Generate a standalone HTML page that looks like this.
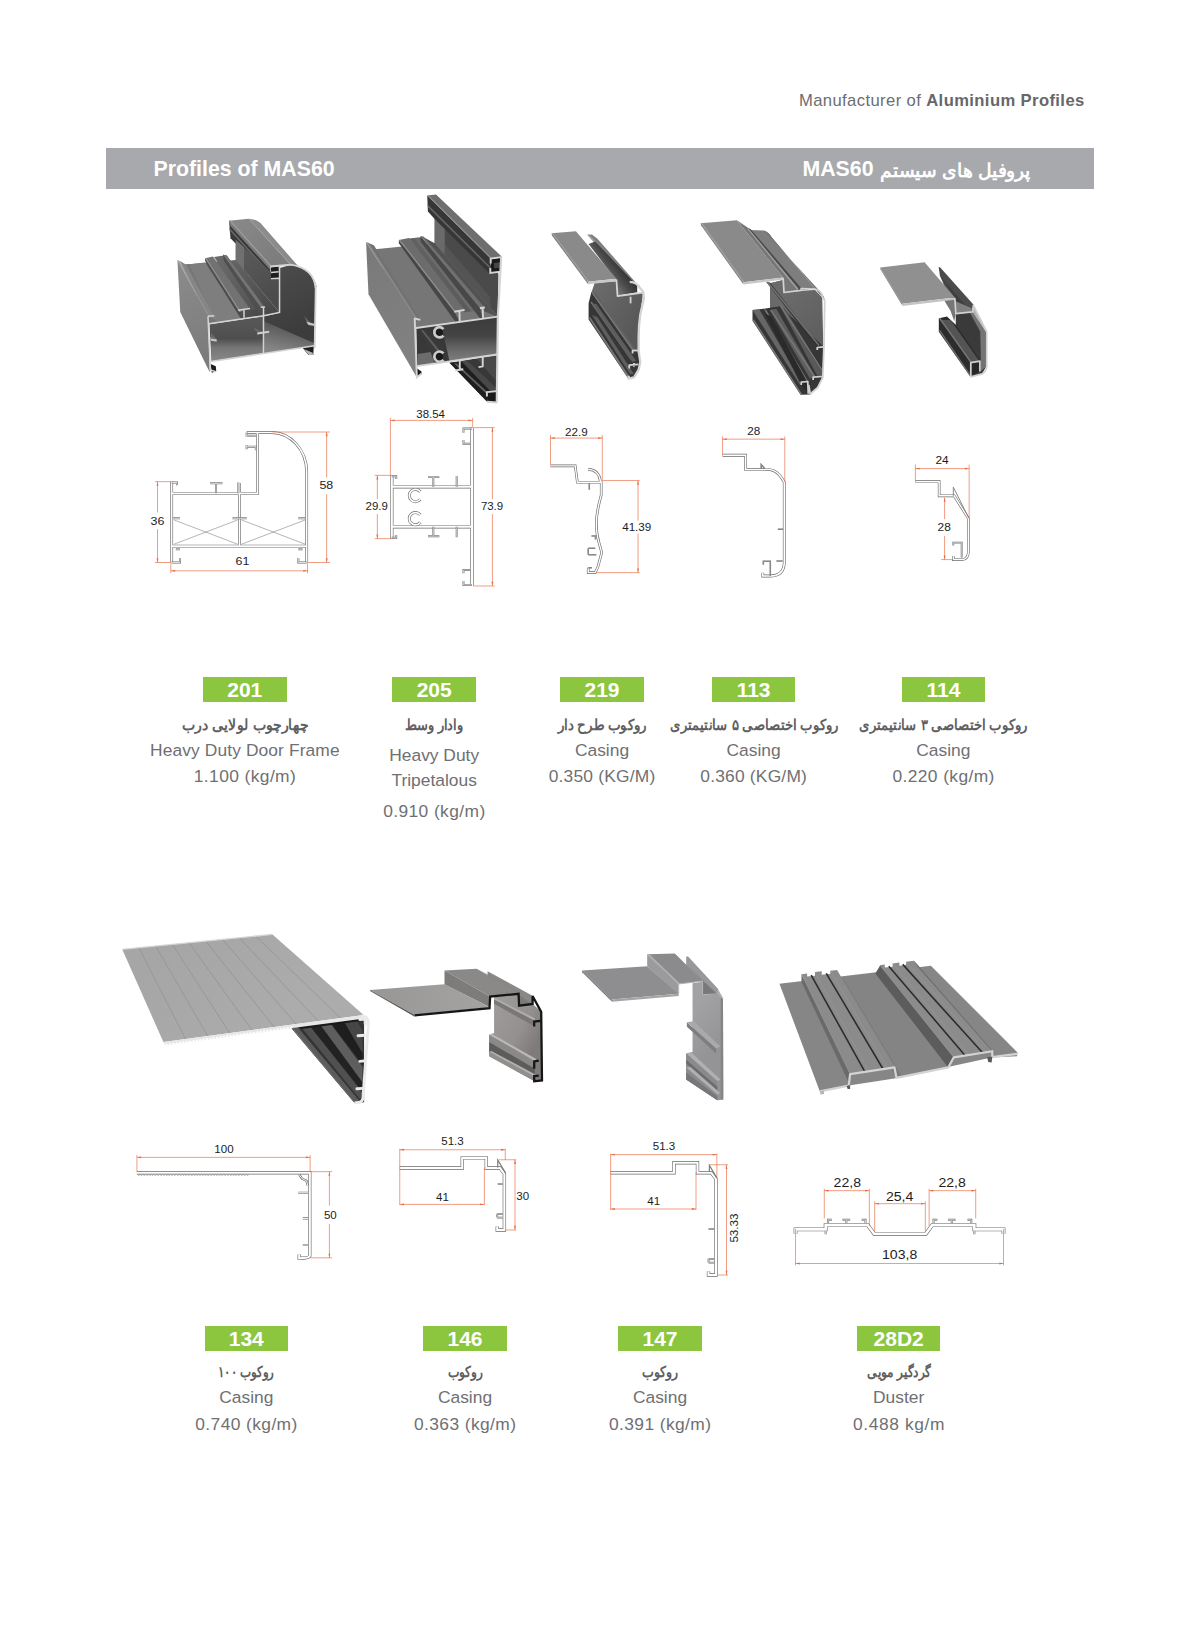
<!DOCTYPE html>
<html lang="en">
<head>
<meta charset="utf-8">
<title>Profiles of MAS60</title>
<style>
html,body{margin:0;padding:0;background:#fff;}
body{width:1200px;height:1630px;position:relative;overflow:hidden;font-family:"Liberation Sans",sans-serif;}
.abs{position:absolute;}
#mfr{position:absolute;left:799px;top:90.5px;font-size:16.6px;line-height:20px;letter-spacing:0.4px;color:#6c6d70;white-space:nowrap;}
#mfr b{font-weight:bold;color:#66676a;}
#bar{position:absolute;left:106px;top:148px;width:988px;height:41px;background:#a8a9ac;}
#bar .l{position:absolute;left:47.5px;top:7.8px;font-size:21.3px;line-height:26px;font-weight:bold;color:#fff;white-space:nowrap;}
#bar .r{position:absolute;left:696.5px;top:7.8px;font-size:21.3px;line-height:26px;font-weight:bold;color:#fff;white-space:nowrap;direction:ltr;}
.nb{position:absolute;width:83.6px;height:25px;background:#8cc63f;color:#fff;font-weight:bold;font-size:21px;line-height:25px;text-align:center;white-space:nowrap;}
.en{position:absolute;width:300px;text-align:center;font-size:17.4px;line-height:22px;color:#6f7073;white-space:nowrap;}
svg.fa2 text{font-family:"Liberation Sans",sans-serif;font-size:19px;font-weight:bold;fill:#fff;}
svg.fa text{font-family:"Liberation Sans",sans-serif;font-size:15px;font-weight:bold;fill:#5f6062;}
svg{position:absolute;overflow:visible;}
svg.p3d{filter:blur(0.35px);}
</style>
</head>
<body>
<div id="mfr">Manufacturer of <b>Aluminium Profiles</b></div>
<div id="bar"><span class="l">Profiles of MAS60</span><span class="r">MAS60</span><svg class="fa2" width="200" height="41" style="left:749px;top:0;" viewBox="0 0 200 41"><text x="100" y="28.5" text-anchor="middle" direction="rtl" textLength="150" lengthAdjust="spacingAndGlyphs">پروفیل های سیستم</text></svg></div>

<svg class="p3d" width="1200" height="1630" style="left:0;top:0" viewBox="0 0 1200 1630">
<defs>
<linearGradient id="g113body" gradientUnits="userSpaceOnUse" x1="700" y1="650" x2="1050" y2="1050"><stop offset="0" stop-color="#6c6c6c"/><stop offset="1" stop-color="#5e5e5e"/></linearGradient>
</defs>
<g transform="translate(690,210) scale(0.125)">
<!-- inner body face -->
<polygon points="640,585 745,560 752,660 890,645 1000,640 1058,700 1066,1085 1060,1340 960,1470 640,800" fill="url(#g113body)"/>
<polygon points="640,585 745,560 752,660 760,960 640,800" fill="#6a6a6a"/>
<!-- rails region -->
<polygon points="590,790 720,770 1062,1085 1060,1340 1020,1420 960,1475 885,1478 500,885 500,800" fill="#363636"/>
<polygon points="500,800 555,795 890,1375 880,1400" fill="#666666"/>
<polygon points="500,880 512,876 895,1470 885,1478" fill="#787878"/>
<polygon points="590,790 610,800 950,1380 935,1385" fill="#787878"/>
<polygon points="640,800 690,790 1000,1330 960,1350" fill="#5e5e5e"/>
<polygon points="720,770 760,790 1062,1290 1062,1335 1020,1330" fill="#595959"/>
<polygon points="600,830 650,850 945,1390 945,1470 890,1400" fill="#2a2a2a"/>
<polygon points="640,800 652,797 1000,1325 990,1335" fill="#787878"/>
<polygon points="720,770 732,768 1062,1280 1062,1296" fill="#787878"/>
<!-- upper thin rail -->
<polygon points="610,575 640,580 1035,1085 1020,1105" fill="#323232"/>
<polygon points="610,575 625,572 1035,1078 1030,1090" fill="#727272"/>
<!-- top right surface -->
<path d="M480,160 L590,163 Q630,175 655,220 L1080,722 Q1050,640 1000,630 L890,640 Z" fill="#7e7e7e"/>
<path d="M590,163 Q630,175 655,220 L1080,722 Q1060,660 1030,640 Z" fill="#747474"/>
<!-- channel floor + fin -->
<polygon points="375,82 475,150 878,642 750,658 745,540" fill="#767676"/>
<polygon points="465,148 482,150 890,625 888,645 862,640" fill="#4a4a4a"/>
<polygon points="458,150 468,148 868,630 858,640" fill="#a0a0a0"/>
<!-- plate -->
<polygon points="85,105 375,82 747,540 425,578" fill="#8a8a8a"/>
<polygon points="85,105 98,104 438,577 425,578" fill="#a0a0a0"/>
<polygon points="85,105 425,578 428,596 88,122" fill="#787878"/>
<polygon points="425,578 747,540 750,556 428,596" fill="#c6c6c6"/>
<!-- front contour strokes -->
<g fill="none" stroke="#d2d2d2" stroke-width="14" stroke-linejoin="round">
<path d="M745,545 L752,660 L887,643 L890,628 L1000,632 Q1050,640 1062,700 L1078,724 L1072,1085 L1062,1340 L1022,1420 L962,1472 L950,1400"/>
<path d="M1018,1120 L1018,1100 L1066,1095"/>
<path d="M985,1360 L985,1337 L1062,1332"/>
<path d="M890,1400 L890,1377 L942,1372 L946,1470"/>
</g>
</g>
</svg>

<svg class="p3d" width="1200" height="1630" style="left:0;top:0" viewBox="0 0 1200 1630">
<g transform="translate(870,250) scale(0.11667)">
<!-- fin inner face -->
<polygon points="588,145 602,150 888,470 872,538 740,545 600,222" fill="#4c4c4c"/>
<polygon points="588,200 602,222 872,538 740,545 725,410" fill="#3e3e3e"/>
<polygon points="735,440 872,500 872,538 740,545" fill="#808080"/>
<!-- under-plate web -->
<polygon points="635,430 725,418 735,548 722,610 690,520" fill="#767676"/>
<!-- body interior -->
<polygon points="735,550 880,530 995,700 995,1000 960,1060 862,1088 735,660" fill="#3a3a3a"/>
<polygon points="860,545 882,532 992,700 992,1000 950,1040 950,930 945,700" fill="#747474"/>
<!-- rails -->
<polygon points="590,585 660,570 735,640 945,945 945,1040 862,1088 590,700" fill="#2c2c2c"/>
<polygon points="598,600 690,600 935,950 868,962" fill="#545454"/>
<polygon points="590,585 604,583 872,960 862,968" fill="#767676"/>
<polygon points="590,690 602,686 868,1078 862,1088" fill="#6e6e6e"/>
<!-- plate -->
<polygon points="88,150 468,105 727,408 275,460" fill="#909090"/>
<polygon points="88,150 275,460 278,478 90,166" fill="#757575"/>
<polygon points="275,460 727,408 729,426 278,480" fill="#c4c4c4"/>
<polygon points="886,474 1000,700 992,702 880,532" fill="#b4b4b4"/>
<!-- front contour strokes -->
<g fill="none" stroke="#d0d0d0" stroke-width="15" stroke-linejoin="round">
<path d="M727,412 L736,546 L880,530 L886,474 L1000,700 L1000,1000 Q990,1050 960,1062 L864,1088 L864,966 L942,952 L942,1042"/>
</g>
<polygon points="880,975 930,968 930,1040 880,1062" fill="#262626"/>
</g>
</svg>

<svg class="p3d" width="1200" height="1630" style="left:0;top:0" viewBox="0 0 1200 1630">
<defs>
<linearGradient id="g134p" gradientUnits="userSpaceOnUse" x1="300" y1="80" x2="700" y2="480"><stop offset="0" stop-color="#a6a6a6"/><stop offset="1" stop-color="#acacac"/></linearGradient>
</defs>
<g transform="translate(115,925) scale(0.225)">
<!-- leg interior -->
<clipPath id="c134"><polygon points="775,448 1108,404 1108,788 1066,792"/></clipPath>
<g clip-path="url(#c134)">
<rect x="760" y="390" width="360" height="420" fill="#343434"/>
<polygon points="1000,400 1060,400 1100,470 1100,570" fill="#464646"/>
<polygon points="930,400 1000,400 1100,570 1100,620 1090,605" fill="#1e1e1e"/>
<polygon points="880,400 930,400 1100,630 1100,700" fill="#5e5e5e"/>
<polygon points="843,420 880,400 1100,700 1100,740" fill="#222222"/>
<polygon points="800,420 843,420 1100,745 1090,775" fill="#505050"/>
<polygon points="760,430 800,440 1085,780 1060,800" fill="#5c5c5c"/>
<polygon points="760,436 775,440 1072,795 1060,800" fill="#727272"/>
<polygon points="800,440 1100,400 1100,425 830,462" fill="#1a1a1a"/>
</g>
<!-- plate -->
<polygon points="32,108 700,42 1105,400 215,520" fill="url(#g134p)"/>
<g stroke="#929292" stroke-width="3.5" fill="none">
<path d="M106.2,100.7 L313.3,506.7"/>
<path d="M180.4,93.3 L411.7,493.3"/>
<path d="M254.7,86.0 L510.0,480.0"/>
<path d="M328.9,78.7 L608.3,466.7"/>
<path d="M403.1,71.3 L706.7,453.3"/>
<path d="M477.3,64.0 L805.0,440.0"/>
<path d="M551.6,56.7 L903.3,426.7"/>
<path d="M625.8,49.3 L1001.7,413.3"/>
</g>
<path d="M32,108 L700,42" stroke="#d4d5d7" stroke-width="6" fill="none"/>
<!-- front edge -->
<polygon points="215,520 1105,400 1108,416 790,458 222,536" fill="#e6e7e8"/>
<g fill="#ffffff"><circle cx="229.0" cy="532.0" r="5"/><circle cx="243.9" cy="530.0" r="5"/><circle cx="258.9" cy="527.9" r="5"/><circle cx="273.8" cy="525.9" r="5"/><circle cx="288.8" cy="523.9" r="5"/><circle cx="303.7" cy="521.9" r="5"/><circle cx="318.7" cy="519.8" r="5"/><circle cx="333.6" cy="517.8" r="5"/><circle cx="348.6" cy="515.8" r="5"/><circle cx="363.5" cy="513.8" r="5"/><circle cx="378.5" cy="511.7" r="5"/><circle cx="393.4" cy="509.7" r="5"/><circle cx="408.4" cy="507.7" r="5"/><circle cx="423.3" cy="505.7" r="5"/><circle cx="438.3" cy="503.6" r="5"/><circle cx="453.2" cy="501.6" r="5"/><circle cx="468.2" cy="499.6" r="5"/><circle cx="483.1" cy="497.6" r="5"/><circle cx="498.1" cy="495.5" r="5"/><circle cx="513.0" cy="493.5" r="5"/><circle cx="527.9" cy="491.5" r="5"/><circle cx="542.9" cy="489.4" r="5"/><circle cx="557.8" cy="487.4" r="5"/><circle cx="572.8" cy="485.4" r="5"/><circle cx="587.7" cy="483.4" r="5"/><circle cx="602.7" cy="481.3" r="5"/><circle cx="617.6" cy="479.3" r="5"/><circle cx="632.6" cy="477.3" r="5"/><circle cx="647.5" cy="475.3" r="5"/><circle cx="662.5" cy="473.2" r="5"/><circle cx="677.4" cy="471.2" r="5"/><circle cx="692.4" cy="469.2" r="5"/><circle cx="707.3" cy="467.2" r="5"/><circle cx="722.3" cy="465.1" r="5"/><circle cx="737.2" cy="463.1" r="5"/><circle cx="752.2" cy="461.1" r="5"/><circle cx="767.1" cy="459.1" r="5"/><circle cx="782.1" cy="457.0" r="5"/></g>
<!-- leg front strokes -->
<g fill="none" stroke="#eaeaea" stroke-width="13" stroke-linejoin="round" stroke-linecap="round">
<path d="M1100,404 Q1128,408 1126,440 L1102,770 Q1098,792 1070,790"/>
<path d="M1080,492 L1110,490 M1088,606 L1108,604 M1075,728 L1102,726"/>
<path d="M1088,420 L1112,418 L1112,440"/>
</g>
</g>
</svg>

<svg class="p3d" width="1200" height="1630" style="left:0;top:0" viewBox="0 0 1200 1630">
<defs>
<linearGradient id="g146p" gradientUnits="userSpaceOnUse" x1="150" y1="250" x2="700" y2="280"><stop offset="0" stop-color="#9a9897"/><stop offset="1" stop-color="#a4a2a1"/></linearGradient>
<linearGradient id="g146leg" gradientUnits="userSpaceOnUse" x1="830" y1="350" x2="1110" y2="500"><stop offset="0" stop-color="#9e9a99"/><stop offset="0.6" stop-color="#94908f"/><stop offset="1" stop-color="#7e7b7a"/></linearGradient>
</defs>
<g transform="translate(360,955) scale(0.1625)">
<!-- leg inner face -->
<polygon points="825,255 975,240 978,312 1062,300 1114,350 1118,772 1075,777 795,622 795,490 825,480" fill="url(#g146leg)"/>
<!-- hook groove band on leg -->
<polygon points="825,268 1075,395 1075,440 825,300" fill="#7a7876"/>
<polygon points="825,262 1075,390 1075,404 825,274" fill="#b0aeac"/>
<!-- rails -->
<polygon points="795,490 1075,650 1075,700 795,535" fill="#8b8987"/>
<polygon points="795,490 810,485 1085,640 1075,652" fill="#bab8b6"/>
<polygon points="795,535 1075,700 1075,745 795,598" fill="#5e5c5b"/>
<polygon points="795,595 1075,745 1075,777 795,624" fill="#918f8d"/>
<polygon points="795,595 808,590 1085,738 1075,748" fill="#b5b3b1"/>
<!-- fin + channel -->
<polygon points="785,100 1062,250 1062,302 785,150" fill="#8a8886"/>
<polygon points="718,85 785,120 1062,302 978,312 975,238" fill="#7c7a78"/>
<!-- box top + left face -->
<polygon points="520,95 718,85 977,238 800,256" fill="#8b8987"/>
<polygon points="520,95 800,256 800,322 520,182" fill="#7e7c7b"/>
<!-- plate -->
<polygon points="62,215 520,180 800,322 335,368" fill="url(#g146p)"/>
<!-- front black contour -->
<g fill="none" stroke="#161616" stroke-width="14" stroke-linejoin="miter">
<path d="M335,372 L797,327 L801,256 L976,239 L979,312 L1062,301 L1062,252 L1115,350 L1120,772 L1072,777 L1072,745 L1100,742"/>
<path d="M1072,440 L1072,410 L1112,406"/>
<path d="M1072,700 L1072,655 L1100,650"/>
</g>
<polygon points="62,215 335,368 337,380 62,222" fill="#5a5856"/>
</g>
</svg>

<svg class="p3d" width="1200" height="1630" style="left:0;top:0" viewBox="0 0 1200 1630">
<defs>
<linearGradient id="g147leg" gradientUnits="userSpaceOnUse" x1="865" y1="500" x2="1080" y2="700"><stop offset="0" stop-color="#a2a2a5"/><stop offset="1" stop-color="#949497"/></linearGradient>
</defs>
<g transform="translate(570,940) scale(0.14167)">
<!-- leg inner face -->
<polygon points="865,305 935,295 935,385 1040,378 1080,418 1082,1125 1040,1132 820,985 820,800 865,790" fill="url(#g147leg)"/>
<polygon points="1064,402 1080,418 1082,1125 1064,1128" fill="#858588"/>
<!-- rail 1 shelf -->
<polygon points="825,580 1032,765 1032,802 825,612" fill="#7e7e81"/>
<polygon points="825,580 872,574 1062,752 1032,766" fill="#a9a9ac"/>
<!-- rail 2 / 3 -->
<polygon points="820,800 1040,992 1040,1132 820,985" fill="#8a8a8d"/>
<polygon points="820,800 858,795 1062,985 1040,995" fill="#b0b0b3"/>
<polygon points="820,845 1040,1035 1040,1062 820,872" fill="#6c6c6f"/>
<polygon points="820,900 850,896 1060,1080 1040,1090" fill="#b0b0b3"/>
<polygon points="820,935 1040,1105 1040,1132 820,985" fill="#77777a"/>
<!-- fin + channel -->
<polygon points="820,118 832,114 1046,345 1042,392 820,178" fill="#98989b"/>
<polygon points="740,95 820,175 1042,385 935,388 935,290" fill="#78787b"/>
<!-- box -->
<polygon points="545,100 740,95 937,290 765,310" fill="#8b8b8e"/>
<polygon points="545,100 765,310 765,382 545,186" fill="#9b9b9e"/>
<polygon points="545,100 558,99 778,308 765,310" fill="#b0b0b3"/>
<!-- plate -->
<polygon points="85,215 545,185 767,380 295,420" fill="#8e8e91"/>
<polygon points="295,420 767,380 768,396 297,436" fill="#a5a5a8"/>
<polygon points="85,215 295,420 297,436 86,228" fill="#77777a"/>
<!-- front contour light edges -->
<polygon points="1040,348 1082,416 1062,402 1042,392" fill="#a9a9ac"/>
<g fill="none" stroke="#b4b4b7" stroke-width="7" stroke-linejoin="round">
<path d="M767,382 L767,310 L936,291 L936,386 L1040,380"/>
<path d="M1044,350 L1081,416"/>
</g>
</g>
</svg>

<svg class="p3d" width="1200" height="1630" style="left:0;top:0" viewBox="0 0 1200 1630">
<defs>
<linearGradient id="g201arc" gradientUnits="userSpaceOnUse" x1="700" y1="300" x2="860" y2="170"><stop offset="0" stop-color="#838383"/><stop offset="0.3" stop-color="#8e8e8e"/><stop offset="0.7" stop-color="#808080"/><stop offset="1" stop-color="#6c6c6c"/></linearGradient>
<linearGradient id="g201wall" gradientUnits="userSpaceOnUse" x1="560" y1="300" x2="790" y2="700"><stop offset="0" stop-color="#5a5a5a"/><stop offset="1" stop-color="#484848"/></linearGradient>
<linearGradient id="g201fr" gradientUnits="userSpaceOnUse" x1="480" y1="380" x2="740" y2="720"><stop offset="0" stop-color="#646464"/><stop offset="1" stop-color="#484848"/></linearGradient>
<linearGradient id="g201mid" gradientUnits="userSpaceOnUse" x1="400" y1="350" x2="640" y2="700"><stop offset="0" stop-color="#6a6a6a"/><stop offset="1" stop-color="#545454"/></linearGradient>
<linearGradient id="g201left" gradientUnits="userSpaceOnUse" x1="120" y1="450" x2="330" y2="1000"><stop offset="0" stop-color="#8a8a8a"/><stop offset="1" stop-color="#7c7c7c"/></linearGradient>
<linearGradient id="g201in1" gradientUnits="userSpaceOnUse" x1="0" y1="790" x2="0" y2="1040"><stop offset="0" stop-color="#565656"/><stop offset="0.4" stop-color="#4e4e4e"/><stop offset="0.65" stop-color="#767676"/><stop offset="1" stop-color="#888888"/></linearGradient>
<linearGradient id="g201in3" gradientUnits="userSpaceOnUse" x1="800" y1="400" x2="1000" y2="800"><stop offset="0" stop-color="#4c4c4c"/><stop offset="1" stop-color="#3c3c3c"/></linearGradient>
<linearGradient id="g201in4" gradientUnits="userSpaceOnUse" x1="860" y1="800" x2="820" y2="980"><stop offset="0" stop-color="#545454"/><stop offset="1" stop-color="#868686"/></linearGradient>
<linearGradient id="g201top" gradientUnits="userSpaceOnUse" x1="500" y1="100" x2="800" y2="400"><stop offset="0" stop-color="#888888"/><stop offset="1" stop-color="#7c7c7c"/></linearGradient>
</defs>
<g transform="translate(160,205) scale(0.15)">
<!-- tall part: top flat -->
<polygon points="460,105 592,92 868,395 735,410" fill="url(#g201top)"/>
<!-- arc surface -->
<path d="M592,92 Q630,92 668,118 L1047,552 Q1020,430 868,395 Z" fill="url(#g201arc)"/>
<!-- groove band under top lip (left side of tall part) -->
<polygon points="460,105 735,410 738,498 470,222" fill="#383838"/>
<polygon points="462,152 736,454 737,468 464,168" fill="#6c6c6c"/>
<polygon points="460,105 735,410 736,434 461,130" fill="#7a7a7a"/>
<polygon points="460,105 472,104 747,409 735,410" fill="#9a9a9a"/>
<!-- inner wall -->
<polygon points="505,232 795,498 797,716 505,370" fill="url(#g201wall)"/>
<polygon points="505,232 560,282 560,432 505,370" fill="#707070"/>
<!-- step floor -->
<polygon points="160,398 505,366 797,716 690,738 322,790" fill="url(#g201fr)"/>
<!-- floor region between rails (shadow) -->
<polygon points="360,346 425,336 672,690 600,700" fill="url(#g201mid)"/>
<!-- floor left of rail 1 -->
<polygon points="165,398 300,384 545,758 326,792" fill="#7e7e7e"/>
<polygon points="165,398 195,395 372,784 326,792" fill="#767676"/>
<!-- lip inner slope + top strip -->
<polygon points="130,372 175,398 370,760 322,745" fill="#868686"/>
<polygon points="116,366 128,371 330,744 320,742" fill="#969696"/>
<!-- rail 1 side (dark) + top -->
<polygon points="301,355 530,714 560,748 540,760 300,372" fill="#4c4c4c"/>
<polygon points="301,355 353,344 596,688 530,714" fill="#727272"/>
<polygon points="301,355 309,353 539,711 530,714" fill="#8e8e8e"/>
<!-- rail 2 -->
<polygon points="420,332 445,336 696,680 672,686 672,740 425,372" fill="#4f4f4f"/>
<polygon points="420,332 445,336 696,680 672,684" fill="#747474"/>
<!-- left outer wall -->
<polygon points="116,366 320,740 332,1117 135,714" fill="url(#g201left)"/>
<!-- chamber interiors -->
<polygon points="330,795 688,742 688,988 342,1042" fill="url(#g201in1)"/>
<path d="M692,742 L797,718 L797,420 L870,400 Q1030,430 1035,560 L1030,940 L692,988 Z" fill="url(#g201in3)"/>
<polygon points="694,775 1030,922 1030,940 694,988" fill="url(#g201in4)"/>
<!-- ribs inside -->
<polygon points="335,880 378,895 378,912 338,905" fill="#c4c4c4"/>
<polygon points="340,850 378,895 338,890" fill="#6a6a6a"/>
<polygon points="630,820 690,850 690,862 632,836" fill="#6a6a6a"/>
<polygon points="648,850 728,838 728,852 648,864" fill="#cfcfcf"/>
<polygon points="960,740 1010,790 985,796" fill="#646464"/>
<polygon points="975,778 1030,792 1030,806 990,800" fill="#c4c4c4"/>
<!-- feet -->
<polygon points="338,1060 372,1075 375,1108 345,1118" fill="#1c1c1c"/>
<polygon points="950,952 1025,940 1022,1000 990,1000" fill="#1e1e1e"/>
<polygon points="960,960 1018,985 1020,1000 992,1000" fill="#b4b4b4"/>
<polygon points="740,415 792,408 794,492 740,498" fill="#1e1e1e"/>
<!-- front cross-section strokes -->
<g fill="none" stroke="#d4d4d4" stroke-width="10" stroke-linejoin="miter">
<path d="M320,742 L336,1100 L372,1112"/>
<path d="M326,792 L690,738 L797,716 L797,405"/>
<path d="M690,682 L690,990"/>
<path d="M340,1044 L1030,938"/>
<path d="M735,410 L870,397 Q1030,420 1038,560 L1031,955" stroke-width="12"/>
<path d="M320,742 L362,738"/>
<path d="M520,702 L600,690 M560,698 L560,752"/>
<path d="M672,682 L700,680"/>
<path d="M740,450 L790,445 M740,492 L795,488"/>
</g>
</g>
</svg>

<svg class="p3d" width="1200" height="1630" style="left:0;top:0" viewBox="0 0 1200 1630">
<defs>
<linearGradient id="g205box" gradientUnits="userSpaceOnUse" x1="0" y1="960" x2="0" y2="1260"><stop offset="0" stop-color="#3c3c3c"/><stop offset="0.4" stop-color="#444444"/><stop offset="0.75" stop-color="#6a6a6a"/><stop offset="1" stop-color="#7c7c7c"/></linearGradient>
<linearGradient id="g205left" gradientUnits="userSpaceOnUse" x1="90" y1="500" x2="450" y2="1200"><stop offset="0" stop-color="#7a7a7a"/><stop offset="1" stop-color="#818181"/></linearGradient>
<linearGradient id="g205mid" gradientUnits="userSpaceOnUse" x1="450" y1="360" x2="870" y2="900"><stop offset="0" stop-color="#626262"/><stop offset="1" stop-color="#5a5a5a"/></linearGradient>
</defs>
<g transform="translate(355,190) scale(0.13502)">
<!-- right wall inner face (upper) -->
<polygon points="590,120 1062,620 1058,940 590,398" fill="#4a4a4a"/>
<polygon points="590,150 665,228 665,480 590,398" fill="#6a6a6a"/>
<polygon points="665,400 1000,790 1010,900 665,480" fill="#545454"/>
<!-- groove band -->
<polygon points="535,40 1005,505 1003,625 590,215 540,160" fill="#363636"/>
<polygon points="538,108 1003,570 1003,586 540,126" fill="#666666"/>
<!-- top strip -->
<polygon points="535,40 600,33 1088,495 1005,507" fill="#6e6e6e"/>
<polygon points="535,40 545,39 1015,506 1005,507" fill="#8e8e8e"/>
<!-- floor -->
<polygon points="130,440 590,395 1058,938 452,1022" fill="#767676"/>
<polygon points="400,360 490,350 930,890 812,905" fill="url(#g205mid)"/>
<polygon points="440,356 470,353 900,893 860,898" fill="#6c6c6c"/>
<polygon points="505,348 590,395 1058,938 960,900" fill="#525252"/>
<!-- lip -->
<polygon points="95,390 140,410 490,968 442,950" fill="#727272"/>
<polygon points="82,385 100,390 458,950 442,948" fill="#8a8a8a"/>
<!-- rail 1 -->
<polygon points="325,370 735,900 775,975 750,985 325,395" fill="#464646"/>
<polygon points="325,370 400,355 812,886 735,902" fill="#6c6c6c"/>
<polygon points="325,370 335,368 747,899 735,902" fill="#8c8c8c"/>
<!-- rail 2 -->
<polygon points="485,340 925,872 945,952 930,955 487,385" fill="#484848"/>
<polygon points="485,340 507,344 960,870 925,874" fill="#707070"/>
<!-- left wall -->
<polygon points="82,385 442,947 456,1385 100,772" fill="url(#g205left)"/>
<!-- box interior -->
<polygon points="456,1022 1058,938 1052,1218 460,1302" fill="url(#g205box)"/>
<polygon points="456,1022 640,998 700,1270 460,1302" fill="#383838"/>
<polygon points="463,1215 560,1200 590,1285 463,1300" fill="#6c6c6c"/>
<!-- tubes -->
<polygon points="470,1035 525,1030 660,1200 590,1245" fill="#3a3a3a"/>
<polygon points="490,1040 505,1038 640,1205 625,1212" fill="#5e5e5e"/>
<polygon points="560,1040 600,1030 640,1090 600,1095" fill="#303030"/>
<!-- lower section -->
<polygon points="700,1280 1052,1222 1050,1575 975,1565" fill="#484848"/>
<polygon points="700,1280 790,1270 1005,1492 975,1565" fill="#1e1e1e"/>
<polygon points="830,1262 900,1250 1050,1420 1050,1470" fill="#383838"/>
<polygon points="735,1285 750,1283 985,1500 975,1510" fill="#5f5f5f"/>
<!-- foot -->
<polygon points="458,1320 492,1345 492,1362 460,1385" fill="#1c1c1c"/>
<polygon points="1008,512 1080,500 1075,602 1005,612" fill="#1a1a1a"/>
<polygon points="1030,540 1075,535 1072,575 1030,580" fill="#464646"/>
<polygon points="980,1500 1050,1492 1050,1572 982,1566" fill="#1a1a1a"/>
<!-- front strokes -->
<g fill="none" stroke="#d4d4d4" stroke-width="14">
<path d="M442,947 L458,1388 L492,1360"/>
<path d="M442,952 L484,962"/>
<path d="M452,1022 L1060,938"/>
<path d="M458,1304 L1052,1218"/>
<path d="M1083,495 L1058,938 L1050,1575" stroke-width="16"/>
<path d="M1005,545 L1005,508 L1085,497"/>
<path d="M1002,578 L1002,615 L1078,605"/>
<path d="M977,1530 L977,1497 L1052,1490"/>
<path d="M980,1568 L1050,1574"/>
<path d="M735,902 L812,888 M773,895 L776,978"/>
<path d="M925,874 L962,870 M946,870 L948,955"/>
<path d="M776,1262 L776,1332 M742,1337 L802,1328"/>
<path d="M946,1235 L946,1308 M915,1312 L950,1306"/>
</g>
<!-- C ports -->
<circle cx="624" cy="1054" r="28" fill="#1a1a1a"/>
<circle cx="624" cy="1234" r="28" fill="#1a1a1a"/>
<g fill="none" stroke="#cccccc" stroke-width="20">
<path d="M655,1078 A38,38 0 1 1 655,1030"/>
<path d="M655,1258 A38,38 0 1 1 655,1210"/>
</g>
</g>
</svg>

<svg class="p3d" width="1200" height="1630" style="left:0;top:0" viewBox="0 0 1200 1630">
<defs>
<linearGradient id="g219body" gradientUnits="userSpaceOnUse" x1="500" y1="700" x2="900" y2="900"><stop offset="0" stop-color="#6a6a6a"/><stop offset="1" stop-color="#595959"/></linearGradient>
<linearGradient id="g219ch" gradientUnits="userSpaceOnUse" x1="600" y1="560" x2="760" y2="440"><stop offset="0" stop-color="#727272"/><stop offset="0.45" stop-color="#4a4a4a"/><stop offset="1" stop-color="#2a2a2a"/></linearGradient>
</defs>
<g transform="translate(540,215) scale(0.11045)">
<!-- inner body face -->
<polygon points="495,615 690,600 700,735 935,705 905,900 890,1100 890,1235 840,1235 465,705" fill="url(#g219body)"/>
<!-- rails region -->
<polygon points="465,700 840,1228 895,1235 905,1330 890,1400 850,1470 800,1482 440,945 440,800" fill="#363636"/>
<polygon points="465,700 500,700 870,1225 838,1230" fill="#626262"/>
<polygon points="465,700 478,700 850,1225 838,1230" fill="#787878"/>
<polygon points="455,790 470,785 835,1300 820,1310" fill="#767676"/>
<polygon points="470,800 510,805 870,1320 835,1330" fill="#5e5e5e"/>
<polygon points="440,930 455,925 812,1465 800,1480" fill="#787878"/>
<polygon points="470,905 520,925 850,1440 815,1440" fill="#5e5e5e"/>
<!-- right top hook surface -->
<polygon points="428,178 470,176 520,215 938,692 905,660 870,615 810,602" fill="#7e7e7e"/>
<polygon points="428,178 445,177 825,602 810,602" fill="#a0a0a0"/>
<!-- channel -->
<polygon points="440,262 500,240 880,640 880,700 700,732 690,590" fill="url(#g219ch)"/>
<!-- plate -->
<polygon points="105,165 325,148 692,578 432,604" fill="#8a8a8a"/>
<polygon points="105,165 118,164 445,603 432,604" fill="#a0a0a0"/>
<polygon points="432,604 692,578 694,600 436,628" fill="#c8c8c8"/>
<polygon points="105,165 432,604 436,628 108,185" fill="#787878"/>
<!-- front contour strokes -->
<g fill="none" stroke="#d4d4d4" stroke-width="16" stroke-linejoin="round">
<path d="M692,585 L702,735 L935,702"/>
<path d="M812,606 Q880,610 905,660 L935,696 L940,760 L908,900 Q893,1000 893,1100 L893,1235 L908,1330 L893,1400 L852,1470 L802,1482 L802,1455" stroke-width="21"/>
<path d="M820,740 L820,800"/>
<path d="M838,1255 L838,1228 L885,1225"/>
<path d="M808,1390 L808,1360 L890,1352 M850,1340 L850,1375"/>
</g>
</g>
</svg>

<svg class="p3d" width="1200" height="1630" style="left:0;top:0" viewBox="0 0 1200 1630">
<g transform="translate(770,950) scale(0.225)">
<!-- base -->
<polygon points="42,150 715,70 1100,455 1098,472 985,478 560,570 350,602 222,630" fill="#868686"/>
<!-- center channel -->
<polygon points="300,125 490,100 800,520 560,566" fill="#848484"/>
<polygon points="300,125 322,122 585,560 560,566" fill="#7a7a7a"/>
<polygon points="468,104 490,68 817,478 792,522" fill="#5c5c5c"/>
<!-- left raised block -->
<polygon points="140,108 165,104 165,118 200,114 200,98 230,94 230,110 268,106 268,92 298,89 555,520 355,550" fill="#8b8b8b"/>
<polygon points="140,108 355,550 355,600 140,142" fill="#6a6a6a"/>
<g stroke="#2c2c2c" stroke-width="7" fill="none"><path d="M183,112 L422,542"/><path d="M250,104 L503,530"/></g>
<g stroke="#969696" stroke-width="3" fill="none"><path d="M141,108 L356,550"/><path d="M201,100 L440,540"/><path d="M269,93 L521,524"/></g>
<!-- right raised block -->
<polygon points="488,68 510,64 510,78 545,74 545,60 575,56 575,70 605,66 605,52 640,48 990,448 815,476" fill="#8b8b8b"/>
<g stroke="#2c2c2c" stroke-width="7" fill="none"><path d="M528,72 L868,470"/><path d="M590,64 L946,458"/></g>
<g stroke="#969696" stroke-width="3" fill="none"><path d="M489,68 L816,476"/><path d="M546,61 L884,466"/><path d="M606,53 L962,454"/></g>
<polygon points="640,48 656,74 1005,470 990,448" fill="#6c6c6c"/>
<!-- front contour -->
<g fill="none" stroke="#d2d3d5" stroke-width="10" stroke-linejoin="round">
<path d="M222,628 L350,603 L356,552 L553,522 L562,568 L792,522 L817,477 L988,450 L988,476 L1098,462"/>
</g>
<polygon points="222,628 240,624 240,640 224,642" fill="#b5b6b9"/>
<polygon points="965,476 988,474 985,500 970,498" fill="#58595c"/>
<polygon points="340,604 356,600 356,618 345,618" fill="#58595c"/>
</g>
</svg>

<svg width="1200" height="1630" style="left:0;top:0" viewBox="0 0 1200 1630">
<g transform="translate(140,420) scale(0.166667)">
<path d="M190,368 V855 M190,440 H705 V75 M640,75 H790 A212,236 0 0 1 1000,310 V855 M597,378 V757 M190,757 H1000" fill="none" stroke="#6b6b6b" stroke-width="17.00" stroke-linejoin="miter" stroke-linecap="butt"/>
<path d="M190,368 V855 M190,440 H705 V75 M640,75 H790 A212,236 0 0 1 1000,310 V855 M597,378 V757 M190,757 H1000" fill="none" stroke="#fff" stroke-width="9.56" stroke-linejoin="miter" stroke-linecap="butt"/>
<path d="M190,855 H240 V830 M1000,855 H950 V830 M198,590 H240 M555,590 H640 M950,590 H993 M215,775 H240 M950,775 H975 M190,375 H222 V392 M420,380 H495 M456,380 V440 M590,375 V440 M640,95 H695 M640,160 H695 V182 M640,75 V100 M640,150 V175" fill="none" stroke="#6b6b6b" stroke-width="12.00" stroke-linejoin="miter" stroke-linecap="butt"/>
<path d="M190,855 H240 V830 M1000,855 H950 V830 M198,590 H240 M555,590 H640 M950,590 H993 M215,775 H240 M950,775 H975 M190,375 H222 V392 M420,380 H495 M456,380 V440 M590,375 V440 M640,95 H695 M640,160 H695 V182 M640,75 V100 M640,150 V175" fill="none" stroke="#fff" stroke-width="4.56" stroke-linejoin="miter" stroke-linecap="butt"/>
<path d="M205,600 L585,745 M205,745 L585,600 M610,600 L990,745 M610,745 L990,600" fill="none" stroke="#6b6b6b" stroke-width="3.00"/>
<path d="M105,370 V555 M105,655 V855 M90,370 H185 M90,855 H185" fill="none" stroke="#e8693f" stroke-width="3.90"/>
<polygon points="105.0,370.0 110.4,395.2 99.6,395.2" fill="#e8693f"/>
<polygon points="105.0,855.0 99.6,829.8 110.4,829.8" fill="#e8693f"/>
<text x="0" y="0" transform="translate(105,628) scale(1.1,1)" font-family="Liberation Sans, sans-serif" font-size="67.8" text-anchor="middle" fill="#1c1c1c">36</text>
<path d="M1120,72 V345 M1120,445 V855 M795,72 H1140 M1005,855 H1140" fill="none" stroke="#e8693f" stroke-width="3.90"/>
<polygon points="1120.0,72.0 1125.4,97.2 1114.6,97.2" fill="#e8693f"/>
<polygon points="1120.0,855.0 1114.6,829.8 1125.4,829.8" fill="#e8693f"/>
<text x="0" y="0" transform="translate(1118,414) scale(1.1,1)" font-family="Liberation Sans, sans-serif" font-size="67.8" text-anchor="middle" fill="#1c1c1c">58</text>
<path d="M185,905 H1005 M185,860 V920 M1005,860 V920" fill="none" stroke="#e8693f" stroke-width="3.90"/>
<polygon points="185.0,905.0 210.2,899.6 210.2,910.4" fill="#e8693f"/>
<polygon points="1005.0,905.0 979.8,910.4 979.8,899.6" fill="#e8693f"/>
<text x="0" y="0" transform="translate(615,870) scale(1.1,1)" font-family="Liberation Sans, sans-serif" font-size="67.8" text-anchor="middle" fill="#1c1c1c">61</text>
</g>
<g transform="translate(360,400) scale(0.133333)">
<path d="M840,207 V1395 M238,565 V1040 M238,650 H840 M238,950 H840" fill="none" stroke="#6b6b6b" stroke-width="26.00" stroke-linejoin="miter" stroke-linecap="butt"/>
<path d="M840,207 V1395 M238,565 V1040 M238,650 H840 M238,950 H840" fill="none" stroke="#fff" stroke-width="16.70" stroke-linejoin="miter" stroke-linecap="butt"/>
<path d="M840,214 H776 V245 M776,300 V328 H828 M840,1388 H776 V1357 M776,1300 V1275 H828 M238,572 H272 V592 M238,1033 H272 V1012 M510,578 H595 M550,578 V650 M725,570 V650 M510,1022 H595 M550,1022 V950 M725,1030 V950" fill="none" stroke="#6b6b6b" stroke-width="14.00" stroke-linejoin="miter" stroke-linecap="butt"/>
<path d="M840,214 H776 V245 M776,300 V328 H828 M840,1388 H776 V1357 M776,1300 V1275 H828 M238,572 H272 V592 M238,1033 H272 V1012 M510,578 H595 M550,578 V650 M725,570 V650 M510,1022 H595 M550,1022 V950 M725,1030 V950" fill="none" stroke="#fff" stroke-width="4.70" stroke-linejoin="miter" stroke-linecap="butt"/>
<path d="M452,745 A46,46 0 1 1 452,688 M452,918 A46,46 0 1 1 452,862" fill="none" stroke="#6b6b6b" stroke-width="22.00" stroke-linejoin="miter" stroke-linecap="butt"/>
<path d="M452,745 A46,46 0 1 1 452,688 M452,918 A46,46 0 1 1 452,862" fill="none" stroke="#fff" stroke-width="12.70" stroke-linejoin="miter" stroke-linecap="butt"/>
<path d="M228,153 H845 M228,135 V565 M845,135 V207" fill="none" stroke="#e8693f" stroke-width="4.88"/>
<polygon points="228.0,153.0 259.5,146.2 259.5,159.8" fill="#e8693f"/>
<polygon points="845.0,153.0 813.5,159.8 813.5,146.2" fill="#e8693f"/>
<text x="0" y="0" transform="translate(530,137) scale(1.1,1)" font-family="Liberation Sans, sans-serif" font-size="78.0" text-anchor="middle" fill="#1c1c1c">38.54</text>
<path d="M993,207 V745 M993,855 V1395 M852,207 H1010 M852,1395 H1010" fill="none" stroke="#e8693f" stroke-width="4.88"/>
<polygon points="993.0,207.0 999.8,238.5 986.2,238.5" fill="#e8693f"/>
<polygon points="993.0,1395.0 986.2,1363.5 999.8,1363.5" fill="#e8693f"/>
<text x="0" y="0" transform="translate(990,824) scale(1.1,1)" font-family="Liberation Sans, sans-serif" font-size="78.0" text-anchor="middle" fill="#1c1c1c">73.9</text>
<path d="M130,565 V745 M130,855 V1040 M110,565 H238 M110,1040 H238" fill="none" stroke="#e8693f" stroke-width="4.88"/>
<polygon points="130.0,565.0 136.8,596.5 123.2,596.5" fill="#e8693f"/>
<polygon points="130.0,1040.0 123.2,1008.5 136.8,1008.5" fill="#e8693f"/>
<text x="0" y="0" transform="translate(125,824) scale(1.1,1)" font-family="Liberation Sans, sans-serif" font-size="78.0" text-anchor="middle" fill="#1c1c1c">29.9</text>
</g>
<g transform="translate(540,415) scale(0.108333)">
<path d="M97,470 H325 L345,621 H565 M445,502 Q545,505 558,615 M565,608 V740 Q520,900 520,1000 Q520,1100 545,1180 L570,1270 L535,1400 L510,1455 H445 V1410" fill="none" stroke="#6b6b6b" stroke-width="24.00" stroke-linejoin="miter" stroke-linecap="butt"/>
<path d="M97,470 H325 L345,621 H565 M445,502 Q545,505 558,615 M565,608 V740 Q520,900 520,1000 Q520,1100 545,1180 L570,1270 L535,1400 L510,1455 H445 V1410" fill="none" stroke="#fff" stroke-width="12.55" stroke-linejoin="miter" stroke-linecap="butt"/>
<path d="M455,630 V690 M475,1118 H512 V1150 M445,1230 H510 M445,1290 H520 M445,1230 V1290 M445,1410 H480" fill="none" stroke="#6b6b6b" stroke-width="14.00" stroke-linejoin="miter" stroke-linecap="butt"/>
<path d="M455,630 V690 M475,1118 H512 V1150 M445,1230 H510 M445,1290 H520 M445,1230 V1290 M445,1410 H480" fill="none" stroke="#fff" stroke-width="2.55" stroke-linejoin="miter" stroke-linecap="butt"/>
<path d="M97,213 H575 M97,185 V460 M575,185 V605" fill="none" stroke="#e8693f" stroke-width="6.00"/>
<polygon points="97.0,213.0 135.8,204.7 135.8,221.3" fill="#e8693f"/>
<polygon points="575.0,213.0 536.2,221.3 536.2,204.7" fill="#e8693f"/>
<text x="0" y="0" transform="translate(335,190) scale(1.1,1)" font-family="Liberation Sans, sans-serif" font-size="97.8" text-anchor="middle" fill="#1c1c1c">22.9</text>
<path d="M905,605 V975 M905,1095 V1455 M575,605 H920 M520,1455 H920" fill="none" stroke="#e8693f" stroke-width="6.00"/>
<polygon points="905.0,605.0 913.3,643.8 896.7,643.8" fill="#e8693f"/>
<polygon points="905.0,1455.0 896.7,1416.2 913.3,1416.2" fill="#e8693f"/>
<text x="0" y="0" transform="translate(893,1068) scale(1.1,1)" font-family="Liberation Sans, sans-serif" font-size="97.8" text-anchor="middle" fill="#1c1c1c">41.39</text>
</g>
<g transform="translate(700,415) scale(0.107335)">
<path d="M210,375 H425 V507 H600 Q690,500 740,560 Q765,590 785,625 V1380 Q780,1500 650,1500 H585 V1470" fill="none" stroke="#6b6b6b" stroke-width="26.00" stroke-linejoin="miter" stroke-linecap="butt"/>
<path d="M210,375 H425 V507 H600 Q690,500 740,560 Q765,590 785,625 V1380 Q780,1500 650,1500 H585 V1470" fill="none" stroke="#fff" stroke-width="14.45" stroke-linejoin="miter" stroke-linecap="butt"/>
<path d="M570,500 V462 L600,495 M725,1065 H775 M712,1360 H770 M590,1395 V1362 H655 V1500" fill="none" stroke="#6b6b6b" stroke-width="14.00" stroke-linejoin="miter" stroke-linecap="butt"/>
<path d="M570,500 V462 L600,495 M725,1065 H775 M712,1360 H770 M590,1395 V1362 H655 V1500" fill="none" stroke="#fff" stroke-width="2.45" stroke-linejoin="miter" stroke-linecap="butt"/>
<path d="M210,225 H790 M210,200 V375 M790,200 V625" fill="none" stroke="#e8693f" stroke-width="6.06"/>
<polygon points="210.0,225.0 249.1,216.6 249.1,233.4" fill="#e8693f"/>
<polygon points="790.0,225.0 750.9,233.4 750.9,216.6" fill="#e8693f"/>
<text x="0" y="0" transform="translate(500,182) scale(1.1,1)" font-family="Liberation Sans, sans-serif" font-size="98.8" text-anchor="middle" fill="#1c1c1c">28</text>
</g>
<g transform="translate(900,445) scale(0.0833333)">
<path d="M185,440 H470 V610 H650 L820,880 V1290 Q815,1375 740,1375 H640 V1335" fill="none" stroke="#6b6b6b" stroke-width="32.00" stroke-linejoin="miter" stroke-linecap="butt"/>
<path d="M185,440 H470 V610 H650 L820,880 V1290 Q815,1375 740,1375 H640 V1335" fill="none" stroke="#fff" stroke-width="17.12" stroke-linejoin="miter" stroke-linecap="butt"/>
<path d="M640,610 V505 L825,875" fill="none" stroke="#6b6b6b" stroke-width="10.00" stroke-linejoin="miter" stroke-linecap="butt"/>
<path d="M640,610 V505 L825,875" fill="none" stroke="#fff" stroke-width="-4.88" stroke-linejoin="miter" stroke-linecap="butt"/>
<path d="M640,1205 V1172 H740 V1350" fill="none" stroke="#6b6b6b" stroke-width="22.00" stroke-linejoin="miter" stroke-linecap="butt"/>
<path d="M640,1205 V1172 H740 V1350" fill="none" stroke="#fff" stroke-width="7.12" stroke-linejoin="miter" stroke-linecap="butt"/>
<path d="M185,283 H830 M185,235 V440 M830,235 V880" fill="none" stroke="#e8693f" stroke-width="7.80"/>
<polygon points="185.0,283.0 235.4,272.2 235.4,293.8" fill="#e8693f"/>
<polygon points="830.0,283.0 779.6,293.8 779.6,272.2" fill="#e8693f"/>
<text x="0" y="0" transform="translate(505,232) scale(1.1,1)" font-family="Liberation Sans, sans-serif" font-size="129.6" text-anchor="middle" fill="#1c1c1c">24</text>
<path d="M535,632 V890 M535,1090 V1375 M495,1375 H640" fill="none" stroke="#e8693f" stroke-width="7.80"/>
<polygon points="535.0,632.0 545.8,682.4 524.2,682.4" fill="#e8693f"/>
<polygon points="535.0,1375.0 524.2,1324.6 545.8,1324.6" fill="#e8693f"/>
<text x="0" y="0" transform="translate(530,1035) scale(1.1,1)" font-family="Liberation Sans, sans-serif" font-size="129.6" text-anchor="middle" fill="#1c1c1c">28</text>
</g>
<g transform="translate(125,1135) scale(0.183333)">
<path d="M65,206 H1008 V660 Q1005,672 950,672 V652" fill="none" stroke="#6b6b6b" stroke-width="18.00" stroke-linejoin="miter" stroke-linecap="butt"/>
<path d="M65,206 H1008 V660 Q1005,672 950,672 V652" fill="none" stroke="#fff" stroke-width="11.24" stroke-linejoin="miter" stroke-linecap="butt"/>
<path d="M945,315 H1000 M970,455 H1000 M970,600 H1000 M950,215 L965,238 L990,250 L997,275" fill="none" stroke="#6b6b6b" stroke-width="12.00" stroke-linejoin="miter" stroke-linecap="butt"/>
<path d="M945,315 H1000 M970,455 H1000 M970,600 H1000 M950,215 L965,238 L990,250 L997,275" fill="none" stroke="#fff" stroke-width="5.24" stroke-linejoin="miter" stroke-linecap="butt"/>
<path d="M68,216 q7,9 14,0 M83.2,216 q7,9 14,0 M98.4,216 q7,9 14,0 M113.6,216 q7,9 14,0 M128.8,216 q7,9 14,0 M144,216 q7,9 14,0 M159.2,216 q7,9 14,0 M174.4,216 q7,9 14,0 M189.6,216 q7,9 14,0 M204.8,216 q7,9 14,0 M220,216 q7,9 14,0 M235.2,216 q7,9 14,0 M250.4,216 q7,9 14,0 M265.6,216 q7,9 14,0 M280.8,216 q7,9 14,0 M296,216 q7,9 14,0 M311.2,216 q7,9 14,0 M326.4,216 q7,9 14,0 M341.6,216 q7,9 14,0 M356.8,216 q7,9 14,0 M372,216 q7,9 14,0 M387.2,216 q7,9 14,0 M402.4,216 q7,9 14,0 M417.6,216 q7,9 14,0 M432.8,216 q7,9 14,0 M448,216 q7,9 14,0 M463.2,216 q7,9 14,0 M478.4,216 q7,9 14,0 M493.6,216 q7,9 14,0 M508.8,216 q7,9 14,0 M524,216 q7,9 14,0 M539.2,216 q7,9 14,0 M554.4,216 q7,9 14,0 M569.6,216 q7,9 14,0 M584.8,216 q7,9 14,0 M600,216 q7,9 14,0 M615.2,216 q7,9 14,0 M630.4,216 q7,9 14,0 M645.6,216 q7,9 14,0 M660.8,216 q7,9 14,0" fill="none" stroke="#6b6b6b" stroke-width="2.73"/>
<path d="M65,122 H1010 M65,110 V200 M1010,110 V200" fill="none" stroke="#e8693f" stroke-width="3.55"/>
<polygon points="65.0,122.0 87.9,117.1 87.9,126.9" fill="#e8693f"/>
<polygon points="1010.0,122.0 987.1,126.9 987.1,117.1" fill="#e8693f"/>
<text x="0" y="0" transform="translate(540,98) scale(1.1,1)" font-family="Liberation Sans, sans-serif" font-size="57.3" text-anchor="middle" fill="#1c1c1c">100</text>
<path d="M1115,200 V385 M1115,485 V670 M1012,200 H1130 M1012,670 H1130" fill="none" stroke="#e8693f" stroke-width="3.55"/>
<polygon points="1115.0,200.0 1119.9,222.9 1110.1,222.9" fill="#e8693f"/>
<polygon points="1115.0,670.0 1110.1,647.1 1119.9,647.1" fill="#e8693f"/>
<text x="0" y="0" transform="translate(1120,456) scale(1.1,1)" font-family="Liberation Sans, sans-serif" font-size="57.3" text-anchor="middle" fill="#1c1c1c">50</text>
</g>
<g transform="translate(390,1130) scale(0.125)">
<path d="M78,304 H578 V223 H770 V304 H880 L915,350 V800 H858 V772" fill="none" stroke="#6b6b6b" stroke-width="27.00" stroke-linejoin="miter" stroke-linecap="butt"/>
<path d="M78,304 H578 V223 H770 V304 H880 L915,350 V800 H858 V772" fill="none" stroke="#fff" stroke-width="17.08" stroke-linejoin="miter" stroke-linecap="butt"/>
<path d="M862,300 V240 L925,345" fill="none" stroke="#6b6b6b" stroke-width="9.00" stroke-linejoin="miter" stroke-linecap="butt"/>
<path d="M862,300 V240 L925,345" fill="none" stroke="#fff" stroke-width="-0.92" stroke-linejoin="miter" stroke-linecap="butt"/>
<path d="M862,430 H902 M858,670 H902 M858,700 H902 M858,670 V700" fill="none" stroke="#6b6b6b" stroke-width="14.00" stroke-linejoin="miter" stroke-linecap="butt"/>
<path d="M862,430 H902 M858,670 H902 M858,700 H902 M858,670 V700" fill="none" stroke="#fff" stroke-width="4.08" stroke-linejoin="miter" stroke-linecap="butt"/>
<path d="M78,158 H922 M78,150 V600 M922,150 V240" fill="none" stroke="#e8693f" stroke-width="5.20"/>
<polygon points="78.0,158.0 111.6,150.8 111.6,165.2" fill="#e8693f"/>
<polygon points="922.0,158.0 888.4,165.2 888.4,150.8" fill="#e8693f"/>
<text x="0" y="0" transform="translate(500,122) scale(1.1,1)" font-family="Liberation Sans, sans-serif" font-size="84.0" text-anchor="middle" fill="#1c1c1c">51.3</text>
<path d="M78,595 H755 M755,300 V600" fill="none" stroke="#e8693f" stroke-width="5.20"/>
<polygon points="78.0,595.0 111.6,587.8 111.6,602.2" fill="#e8693f"/>
<polygon points="755.0,595.0 721.4,602.2 721.4,587.8" fill="#e8693f"/>
<text x="0" y="0" transform="translate(420,568) scale(1.1,1)" font-family="Liberation Sans, sans-serif" font-size="84.0" text-anchor="middle" fill="#1c1c1c">41</text>
<path d="M1000,238 V800 M870,238 H1010 M925,800 H1010" fill="none" stroke="#e8693f" stroke-width="5.20"/>
<polygon points="1000.0,238.0 1007.2,271.6 992.8,271.6" fill="#e8693f"/>
<polygon points="1000.0,800.0 992.8,766.4 1007.2,766.4" fill="#e8693f"/>
<text x="0" y="0" transform="translate(1062,560) scale(1.1,1)" font-family="Liberation Sans, sans-serif" font-size="84.0" text-anchor="middle" fill="#1c1c1c">30</text>
</g>
<g transform="translate(600,1130) scale(0.125)">
<path d="M85,342 H592 V262 H780 V342 H890 L928,392 V1160 H868 V1130" fill="none" stroke="#6b6b6b" stroke-width="27.00" stroke-linejoin="miter" stroke-linecap="butt"/>
<path d="M85,342 H592 V262 H780 V342 H890 L928,392 V1160 H868 V1130" fill="none" stroke="#fff" stroke-width="17.08" stroke-linejoin="miter" stroke-linecap="butt"/>
<path d="M875,335 V282 L935,385" fill="none" stroke="#6b6b6b" stroke-width="9.00" stroke-linejoin="miter" stroke-linecap="butt"/>
<path d="M875,335 V282 L935,385" fill="none" stroke="#fff" stroke-width="-0.92" stroke-linejoin="miter" stroke-linecap="butt"/>
<path d="M868,790 H915 M868,1030 H915 M868,1060 H915 M868,1030 V1060" fill="none" stroke="#6b6b6b" stroke-width="14.00" stroke-linejoin="miter" stroke-linecap="butt"/>
<path d="M868,790 H915 M868,1030 H915 M868,1060 H915 M868,1030 V1060" fill="none" stroke="#fff" stroke-width="4.08" stroke-linejoin="miter" stroke-linecap="butt"/>
<path d="M85,197 H935 M85,190 V640 M935,190 V385" fill="none" stroke="#e8693f" stroke-width="5.20"/>
<polygon points="85.0,197.0 118.6,189.8 118.6,204.2" fill="#e8693f"/>
<polygon points="935.0,197.0 901.4,204.2 901.4,189.8" fill="#e8693f"/>
<text x="0" y="0" transform="translate(512,162) scale(1.1,1)" font-family="Liberation Sans, sans-serif" font-size="84.0" text-anchor="middle" fill="#1c1c1c">51.3</text>
<path d="M85,632 H768 M768,340 V640" fill="none" stroke="#e8693f" stroke-width="5.20"/>
<polygon points="85.0,632.0 118.6,624.8 118.6,639.2" fill="#e8693f"/>
<polygon points="768.0,632.0 734.4,639.2 734.4,624.8" fill="#e8693f"/>
<text x="0" y="0" transform="translate(430,603) scale(1.1,1)" font-family="Liberation Sans, sans-serif" font-size="84.0" text-anchor="middle" fill="#1c1c1c">41</text>
<path d="M1012,278 V1160 M880,278 H1025 M940,1160 H1025" fill="none" stroke="#e8693f" stroke-width="5.20"/>
<polygon points="1012.0,278.0 1019.2,311.6 1004.8,311.6" fill="#e8693f"/>
<polygon points="1012.0,1160.0 1004.8,1126.4 1019.2,1126.4" fill="#e8693f"/>
<text x="0" y="0" transform="translate(1100,785) rotate(-90) scale(1.1,1)" font-family="Liberation Sans, sans-serif" font-size="84.0" text-anchor="middle" fill="#1c1c1c">53.33</text>
</g>
<g transform="translate(785,1160) scale(0.191667)">
<path d="M55,385 V362 H212 V340 H432 L465,385 H735 L768,340 H988 V362 H1140 V385" fill="none" stroke="#6b6b6b" stroke-width="20.00" stroke-linejoin="miter" stroke-linecap="butt"/>
<path d="M55,385 V362 H212 V340 H432 L465,385 H735 L768,340 H988 V362 H1140 V385" fill="none" stroke="#fff" stroke-width="13.53" stroke-linejoin="miter" stroke-linecap="butt"/>
<path d="M225,330 V312 H245 M320,330 V312 M300,312 H340 M420,330 V312 H400 M775,330 V312 H795 M870,330 V312 M850,312 H890 M972,330 V312 H952 M212,372 V388 M988,372 V388" fill="none" stroke="#6b6b6b" stroke-width="10.00" stroke-linejoin="miter" stroke-linecap="butt"/>
<path d="M225,330 V312 H245 M320,330 V312 M300,312 H340 M420,330 V312 H400 M775,330 V312 H795 M870,330 V312 M850,312 H890 M972,330 V312 H952 M212,372 V388 M988,372 V388" fill="none" stroke="#fff" stroke-width="3.53" stroke-linejoin="miter" stroke-linecap="butt"/>
<path d="M205,160 H440 M205,150 V305 M440,150 V345" fill="none" stroke="#e8693f" stroke-width="3.39"/>
<polygon points="205.0,160.0 226.9,155.3 226.9,164.7" fill="#e8693f"/>
<polygon points="440.0,160.0 418.1,164.7 418.1,155.3" fill="#e8693f"/>
<text x="0" y="0" transform="translate(325,142) scale(1.1,1)" font-family="Liberation Sans, sans-serif" font-size="66.8" text-anchor="middle" fill="#1c1c1c">22,8</text>
<path d="M468,228 H732 M468,215 V375 M732,215 V375" fill="none" stroke="#e8693f" stroke-width="3.39"/>
<polygon points="468.0,228.0 489.9,223.3 489.9,232.7" fill="#e8693f"/>
<polygon points="732.0,228.0 710.1,232.7 710.1,223.3" fill="#e8693f"/>
<text x="0" y="0" transform="translate(598,213) scale(1.1,1)" font-family="Liberation Sans, sans-serif" font-size="66.8" text-anchor="middle" fill="#1c1c1c">25,4</text>
<path d="M752,160 H995 M752,150 V345 M995,150 V305" fill="none" stroke="#e8693f" stroke-width="3.39"/>
<polygon points="752.0,160.0 773.9,155.3 773.9,164.7" fill="#e8693f"/>
<polygon points="995.0,160.0 973.1,164.7 973.1,155.3" fill="#e8693f"/>
<text x="0" y="0" transform="translate(872,142) scale(1.1,1)" font-family="Liberation Sans, sans-serif" font-size="66.8" text-anchor="middle" fill="#1c1c1c">22,8</text>
<path d="M55,540 H1140 M55,360 V550 M1140,360 V550" fill="none" stroke="#e8693f" stroke-width="3.39"/>
<polygon points="55.0,540.0 76.9,535.3 76.9,544.7" fill="#e8693f"/>
<polygon points="1140.0,540.0 1118.1,544.7 1118.1,535.3" fill="#e8693f"/>
<text x="0" y="0" transform="translate(598,518) scale(1.1,1)" font-family="Liberation Sans, sans-serif" font-size="66.8" text-anchor="middle" fill="#1c1c1c">103,8</text>
</g>
</svg>


<!-- LABELS -->
<div class="nb" style="left:203.0px;top:677.2px;">201</div>
<svg class="fa" width="240" height="30" style="left:124.8px;top:707.5px;" viewBox="0 0 240 30"><text x="120" y="22" text-anchor="middle" direction="rtl" textLength="126.0" lengthAdjust="spacingAndGlyphs">چهارچوب لولایی درب</text></svg>
<div class="en" style="left:94.9px;top:738.77px;letter-spacing:0.10px;">Heavy Duty Door Frame</div>
<div class="en" style="left:95.0px;top:765.37px;letter-spacing:0.40px;">1.100 (kg/m)</div>
<div class="nb" style="left:392.4px;top:677.2px;">205</div>
<svg class="fa" width="240" height="30" style="left:314.2px;top:707.5px;" viewBox="0 0 240 30"><text x="120" y="22" text-anchor="middle" direction="rtl" textLength="58.0" lengthAdjust="spacingAndGlyphs">وادار وسط</text></svg>
<div class="en" style="left:284.2px;top:743.67px;letter-spacing:0.00px;">Heavy Duty</div>
<div class="en" style="left:284.2px;top:769.47px;letter-spacing:0.00px;">Tripetalous</div>
<div class="en" style="left:284.4px;top:800.17px;letter-spacing:0.40px;">0.910 (kg/m)</div>
<div class="nb" style="left:560.2px;top:677.2px;">219</div>
<svg class="fa" width="240" height="30" style="left:482.0px;top:707.5px;" viewBox="0 0 240 30"><text x="120" y="22" text-anchor="middle" direction="rtl" textLength="88.5" lengthAdjust="spacingAndGlyphs">روکوب طرح دار</text></svg>
<div class="en" style="left:452.0px;top:738.87px;letter-spacing:0.00px;">Casing</div>
<div class="en" style="left:452.1px;top:765.17px;letter-spacing:0.20px;">0.350 (KG/M)</div>
<div class="nb" style="left:711.8px;top:677.2px;">113</div>
<svg class="fa" width="240" height="30" style="left:633.6px;top:707.5px;" viewBox="0 0 240 30"><text x="120" y="22" text-anchor="middle" direction="rtl" textLength="168.0" lengthAdjust="spacingAndGlyphs">روکوب اختصاصی ۵ سانتیمتری</text></svg>
<div class="en" style="left:603.6px;top:738.87px;letter-spacing:0.00px;">Casing</div>
<div class="en" style="left:603.7px;top:765.17px;letter-spacing:0.20px;">0.360 (KG/M)</div>
<div class="nb" style="left:901.6px;top:677.2px;">114</div>
<svg class="fa" width="240" height="30" style="left:823.4px;top:707.5px;" viewBox="0 0 240 30"><text x="120" y="22" text-anchor="middle" direction="rtl" textLength="168.0" lengthAdjust="spacingAndGlyphs">روکوب اختصاصی ۳ سانتیمتری</text></svg>
<div class="en" style="left:793.4px;top:738.87px;letter-spacing:0.00px;">Casing</div>
<div class="en" style="left:793.6px;top:765.17px;letter-spacing:0.40px;">0.220 (kg/m)</div>
<div class="nb" style="left:204.5px;top:1326.2px;">134</div>
<svg class="fa" width="240" height="30" style="left:126.3px;top:1354.5px;" viewBox="0 0 240 30"><text x="120" y="22" text-anchor="middle" direction="rtl" textLength="56.0" lengthAdjust="spacingAndGlyphs">روکوب ۱۰۰</text></svg>
<div class="en" style="left:96.3px;top:1385.57px;letter-spacing:0.00px;">Casing</div>
<div class="en" style="left:96.5px;top:1412.57px;letter-spacing:0.40px;">0.740 (kg/m)</div>
<div class="nb" style="left:423.2px;top:1326.2px;">146</div>
<svg class="fa" width="240" height="30" style="left:345.0px;top:1354.5px;" viewBox="0 0 240 30"><text x="120" y="22" text-anchor="middle" direction="rtl" textLength="35.0" lengthAdjust="spacingAndGlyphs">روکوب</text></svg>
<div class="en" style="left:315.0px;top:1385.57px;letter-spacing:0.00px;">Casing</div>
<div class="en" style="left:315.2px;top:1412.57px;letter-spacing:0.40px;">0.363 (kg/m)</div>
<div class="nb" style="left:618.2px;top:1326.2px;">147</div>
<svg class="fa" width="240" height="30" style="left:540.0px;top:1354.5px;" viewBox="0 0 240 30"><text x="120" y="22" text-anchor="middle" direction="rtl" textLength="36.0" lengthAdjust="spacingAndGlyphs">روکوب</text></svg>
<div class="en" style="left:510.0px;top:1385.57px;letter-spacing:0.00px;">Casing</div>
<div class="en" style="left:510.2px;top:1412.57px;letter-spacing:0.40px;">0.391 (kg/m)</div>
<div class="nb" style="left:856.9px;top:1326.2px;">28D2</div>
<svg class="fa" width="240" height="30" style="left:778.7px;top:1354.5px;" viewBox="0 0 240 30"><text x="120" y="22" text-anchor="middle" direction="rtl" textLength="64.0" lengthAdjust="spacingAndGlyphs">گردگیر مویی</text></svg>
<div class="en" style="left:748.7px;top:1385.57px;letter-spacing:0.00px;">Duster</div>
<div class="en" style="left:749.0px;top:1412.57px;letter-spacing:0.60px;">0.488 kg/m</div>
</body>
</html>
